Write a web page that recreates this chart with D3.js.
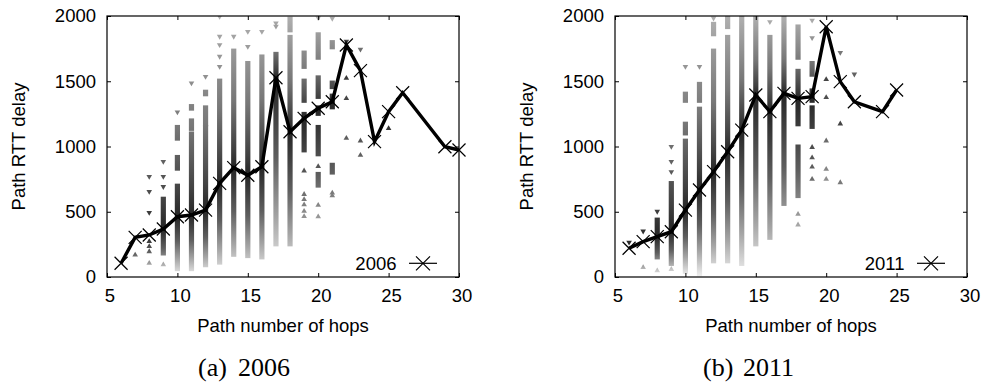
<!DOCTYPE html>
<html>
<head>
<meta charset="utf-8">
<script src="https://cdn.jsdelivr.net/npm/d3@7"></script>
<style>
body { margin: 0; background: white; }
text { font-family: "Liberation Sans", Arial, sans-serif; font-size: 18.5px; fill: black; }
.caption { font-family: "Liberation Serif", "Times New Roman", serif; font-size: 26px; }
</style>
</head>
<body>
<svg id="chart"></svg>
<script>
var hopTicks = [5, 10, 15, 20, 25, 30];
var rttTicks = [0, 500, 1000, 1500, 2000];

// average RTT per hop count (black line)
var lineHops2006 = [6, 7, 8, 9, 10, 11, 12, 13, 14, 15, 16, 17, 18, 19, 20, 21, 22, 23, 24, 25, 26, 29, 30];
var lineRtt2006 = [105, 304, 322, 368, 462, 475, 513, 718, 838, 780, 845, 1527, 1113, 1216, 1293, 1343, 1778, 1581, 1037, 1267, 1412, 998, 973];
var lineHops2011 = [6, 7, 8, 9, 10, 11, 12, 13, 14, 15, 16, 17, 18, 19, 20, 21, 22, 24, 25];
var lineRtt2011 = [220, 271, 309, 347, 513, 667, 807, 960, 1126, 1395, 1267, 1407, 1369, 1382, 1918, 1497, 1343, 1267, 1433];

// dense runs of samples: [hop, low, high]
var bands2006 = [
  [9, 180, 600],
  [10, 1060, 1150], [10, 830, 920], [10, 60, 700],
  [11, 1290, 1310], [11, 1135, 1200], [11, 60, 1100],
  [12, 1400, 1420], [12, 1170, 1300], [12, 90, 1150],
  [13, 110, 1505], [14, 170, 1735], [15, 160, 1640], [16, 150, 1690], [17, 250, 1710],
  [18, 1890, 1980], [18, 250, 1840],
  [19, 1610, 1720], [19, 1350, 1505], [19, 970, 1250],
  [20, 1680, 1860], [20, 1380, 1530], [20, 1250, 1300], [20, 940, 1150], [20, 700, 790],
  [21, 1760, 1800], [21, 1455, 1490], [21, 1300, 1390], [21, 800, 860]
];
var bands2011 = [
  [8, 150, 440], [9, 100, 720],
  [10, 1350, 1405], [10, 1100, 1175], [10, 40, 1045],
  [11, 1350, 1480], [11, 20, 1290],
  [12, 1860, 1940], [12, 120, 1735],
  [13, 1915, 2000], [13, 120, 1840],
  [14, 100, 2000], [15, 250, 2000], [16, 300, 1840], [17, 560, 2000],
  [18, 1680, 1920], [18, 1170, 1580], [18, 620, 1000],
  [19, 1550, 1640], [19, 1350, 1430], [19, 1150, 1300]
];

// single samples: [hop, rtt]
var points2006 = [
  [7, 176],
  [8, 763], [8, 648], [8, 487], [8, 278], [8, 240], [8, 201], [8, 112],
  [9, 878], [9, 763], [9, 686], [9, 100],
  [10, 1257], [11, 1480], [12, 1530],
  [13, 1990], [13, 1837], [13, 1773], [13, 1684], [13, 1607],
  [14, 1837], [15, 1875], [15, 1760], [16, 1875], [17, 1940], [17, 1915],
  [19, 820], [19, 640], [19, 600], [19, 560], [19, 510], [19, 470],
  [20, 1980], [20, 853], [20, 557], [20, 468],
  [21, 1975], [21, 650], [21, 630],
  [22, 1800], [22, 1530], [22, 1375], [22, 1070],
  [23, 1739], [23, 1050], [23, 940],
  [25, 1144]
];
var points2011 = [
  [6, 260], [7, 345], [7, 80], [8, 496], [8, 54],
  [9, 993], [9, 878], [9, 800], [9, 65],
  [10, 1607], [11, 1607], [12, 1977], [16, 1950],
  [18, 488], [18, 406],
  [19, 1960], [19, 1827], [19, 1000], [19, 920], [19, 850], [19, 755],
  [20, 1520], [20, 1382], [20, 1050], [20, 833], [20, 756],
  [21, 1714], [21, 1180], [21, 730],
  [22, 1548]
];

const width = 981;
const height = 382;
var svg = d3.select("#chart").attr("width", width).attr("height", height);
var defs = svg.append("defs");

var plotW = 352, plotTop = 16, plotBottom = 277;

function cross(px, py, r) {
  return "M" + (px - r) + "," + (py - r) + "L" + (px + r) + "," + (py + r) +
         "M" + (px - r) + "," + (py + r) + "L" + (px + r) + "," + (py - r);
}

// triangle in absolute coordinates so the userSpace gradient maps by position
function triangle(px, py, down) {
  var hw = 2.8, h = 2.4, s = down ? -1 : 1;
  return "M" + (px - hw) + "," + (py + s * h) + "L" + (px + hw) + "," + (py + s * h) +
         "L" + px + "," + (py - s * h) + "Z";
}

function drawPanel(id, left, year, lineHops, lineRtt, bands, points, capLabel, capX) {
  var x = d3.scaleLinear().domain([5, 30]).range([left, left + plotW]);
  var y = d3.scaleLinear().domain([0, 2000]).range([plotBottom, plotTop]);
  var meanAt = {};
  lineHops.forEach((h, i) => { meanAt[h] = lineRtt[i]; });

  defs.append("clipPath").attr("id", "clip-" + id).append("rect")
    .attr("x", left).attr("y", plotTop).attr("width", plotW).attr("height", plotBottom - plotTop);

  // grey ramp per hop: darkest at the mean, lighter further away
  lineHops.forEach(h => {
    var m = meanAt[h];
    var grad = defs.append("linearGradient").attr("id", id + "-g" + h)
      .attr("gradientUnits", "userSpaceOnUse")
      .attr("x1", 0).attr("x2", 0).attr("y1", y(2000)).attr("y2", y(0));
    var stops = [
      [2000, "#b0b0b0"],
      [m + (2000 - m) * 0.45, "#787878"],
      [m + (2000 - m) * 0.12, "#404040"],
      [m, "#262626"],
      [m * 0.6, "#5e5e5e"],
      [m * 0.3, "#a4a4a4"],
      [0, "#f2f2f2"]
    ];
    grad.selectAll("stop").data(stops).enter().append("stop")
      .attr("offset", d => (y(d[0]) - y(2000)) / (y(0) - y(2000)))
      .attr("stop-color", d => d[1]);
  });

  var scatter = svg.append("g").attr("clip-path", "url(#clip-" + id + ")");

  scatter.selectAll("rect.band")
    .data(bands)
    .enter()
    .append("rect")
    .attr("class", "band")
    .attr("x", d => x(d[0]) - 2.6)
    .attr("width", 5.2)
    .attr("y", d => y(d[2]) - 2)
    .attr("height", d => y(d[1]) - y(d[2]) + 4)
    .attr("fill", d => "url(#" + id + "-g" + d[0] + ")");

  scatter.selectAll("path.pt")
    .data(points)
    .enter()
    .append("path")
    .attr("class", "pt")
    .attr("d", d => triangle(x(d[0]), y(d[1]), d[1] > meanAt[d[0]]))
    .attr("fill", d => "url(#" + id + "-g" + d[0] + ")");

  // axes with inward ticks on all four sides
  var fmt = d3.format("d");
  var gx = svg.append("g").attr("transform", "translate(0," + plotBottom + ")")
    .call(d3.axisBottom(x).tickValues(hopTicks).tickFormat(fmt).tickSize(-4).tickSizeOuter(0).tickPadding(11.5));
  gx.selectAll("text").attr("dx", 2.5);
  svg.append("g").attr("transform", "translate(0," + plotTop + ")")
    .call(d3.axisTop(x).tickValues(hopTicks).tickSize(-4).tickSizeOuter(0).tickFormat(""));
  svg.append("g").attr("transform", "translate(" + left + ",0)")
    .call(d3.axisLeft(y).tickValues(rttTicks).tickFormat(fmt).tickSize(-4).tickSizeOuter(0).tickPadding(11));
  svg.append("g").attr("transform", "translate(" + (left + plotW) + ",0)")
    .call(d3.axisRight(y).tickValues(rttTicks).tickSize(-4).tickSizeOuter(0).tickFormat(""));
  svg.selectAll(".domain").remove();
  svg.selectAll(".tick line").attr("stroke", "black").attr("stroke-width", 1);

  svg.append("rect")
    .attr("x", left).attr("y", plotTop).attr("width", plotW).attr("height", plotBottom - plotTop)
    .attr("fill", "none").attr("stroke", "black").attr("stroke-width", 1.2);

  var line = d3.line().x(d => x(d[0])).y(d => y(d[1]));
  var linePts = lineHops.map((h, i) => [h, lineRtt[i]]);
  svg.append("path")
    .datum(linePts)
    .attr("d", line)
    .attr("fill", "none")
    .attr("stroke", "black")
    .attr("stroke-width", 3.4)
    .attr("stroke-linejoin", "miter");
  svg.selectAll("path.mk-" + id)
    .data(linePts)
    .enter()
    .append("path")
    .attr("class", "mk-" + id)
    .attr("d", d => cross(x(d[0]), y(d[1]), 6.5))
    .attr("stroke", "black")
    .attr("stroke-width", 1.2);

  // legend
  svg.append("text").attr("x", left + 289.5).attr("y", 269.5).attr("text-anchor", "end").text(year);
  svg.append("line").attr("x1", left + 302).attr("x2", left + 330).attr("y1", 263.3).attr("y2", 263.3)
    .attr("stroke", "black").attr("stroke-width", 1.2);
  svg.append("path").attr("d", cross(left + 316, 263.3, 7)).attr("stroke", "black").attr("stroke-width", 1.2);

  // axis titles
  svg.append("text").attr("x", left + plotW / 2).attr("y", 332).attr("text-anchor", "middle")
    .text("Path number of hops");
  svg.append("text").attr("transform", "translate(" + (left - 82) + "," + ((plotTop + plotBottom) / 2) + ") rotate(-90)")
    .attr("text-anchor", "middle").text("Path RTT delay");

  // sub-caption
  var cap = svg.append("text").attr("class", "caption").attr("y", 376);
  cap.append("tspan").attr("x", capX).text(capLabel);
  cap.append("tspan").attr("x", capX + 40).text(year);
}

drawPanel("a", 107, "2006", lineHops2006, lineRtt2006, bands2006, points2006, "(a)", 198);
drawPanel("b", 615, "2011", lineHops2011, lineRtt2011, bands2011, points2011, "(b)", 703);
</script>
</body>
</html>
